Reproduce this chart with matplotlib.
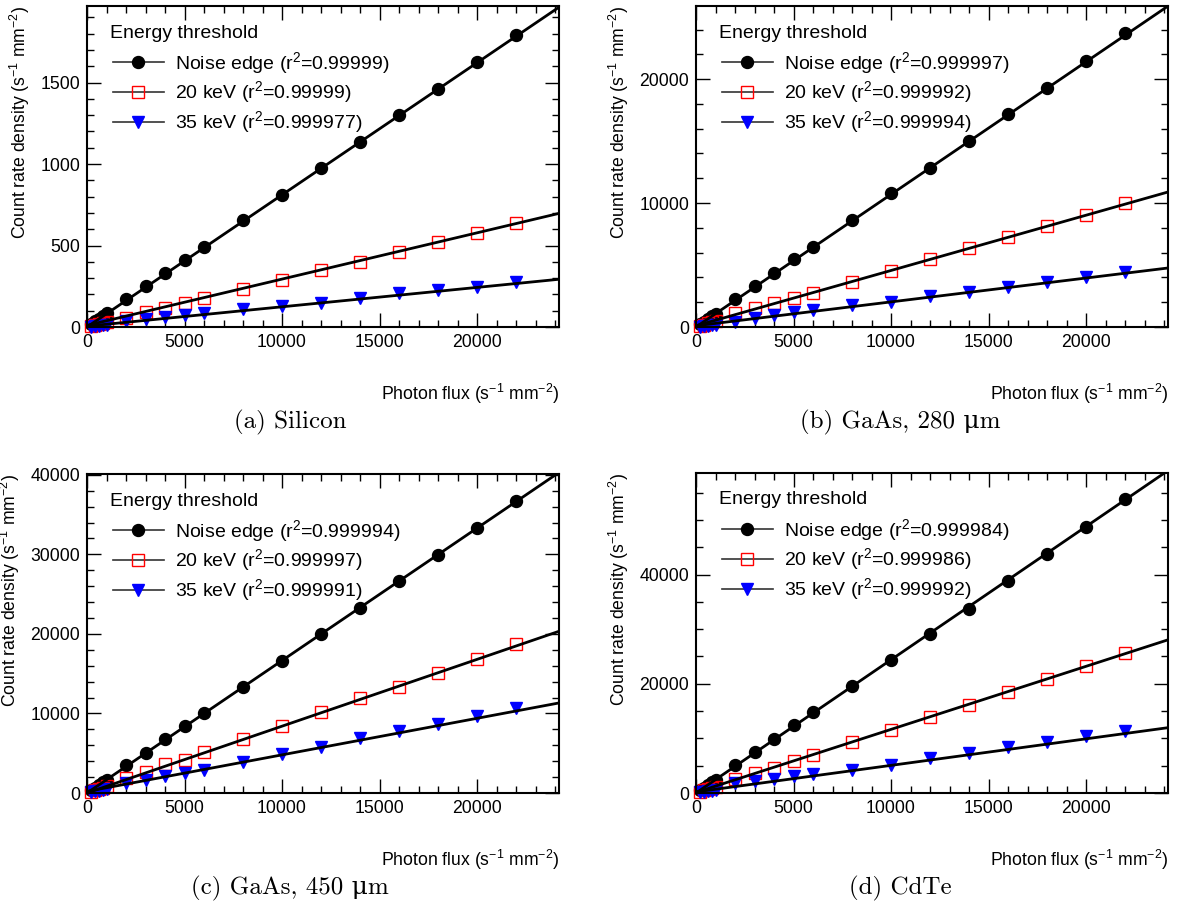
import matplotlib
matplotlib.use("Agg")
import matplotlib.pyplot as plt
from matplotlib.ticker import MultipleLocator
from matplotlib.lines import Line2D
import numpy as np

plt.rcParams['font.family'] = ['Liberation Sans', 'DejaVu Sans']
plt.rcParams['mathtext.default'] = 'regular'

# photon flux points (s^-1 mm^-2), same for every detector
flux = [200, 400, 600, 800, 1000, 2000, 3000, 4000, 5000, 6000,
        8000, 10000, 12000, 14000, 16000, 18000, 20000, 22000]

# (a) Silicon
si_noise = [18, 34, 50, 67, 84, 172, 251, 331, 411, 491,
            656, 810, 975, 1135, 1300, 1460, 1626, 1791]
si_20 = [6, 12, 18, 24, 29, 55, 92, 117, 147, 178,
         233, 288, 350, 399, 460, 521, 577, 638]
si_35 = [3, 5, 8, 10, 12, 37, 49, 61, 74, 86,
         110, 129, 147, 178, 208, 227, 245, 276]
si_r2 = ['0.99999', '0.99999', '0.999977']
si_slope = [0.0811, 0.0284, 0.0119]
si_icpt = [0, 10, 5]

# (b) GaAs 280 um
g2_noise = [215, 430, 645, 860, 1080, 2260, 3310, 4360, 5480, 6450,
            8630, 10800, 12830, 15000, 17180, 19270, 21450, 23700]
g2_20 = [95, 190, 285, 380, 470, 1130, 1530, 1940, 2340, 2740,
         3630, 4520, 5480, 6370, 7260, 8150, 9030, 10000]
g2_35 = [40, 80, 120, 160, 200, 400, 730, 970, 1210, 1370,
         1770, 2020, 2500, 2820, 3230, 3630, 4030, 4440]
g2_r2 = ['0.999997', '0.999992', '0.999994']
g2_slope = [1.07, 0.446, 0.1926]
g2_icpt = [0, 100, 100]

# (c) GaAs 450 um
g4_noise = [340, 680, 1010, 1350, 1690, 3520, 5070, 6750, 8430, 10020,
            13290, 16640, 19960, 23300, 26670, 29940, 33330, 36700]
g4_20 = [170, 340, 510, 680, 850, 1850, 2680, 3610, 4150, 5200,
         6750, 8470, 10230, 11910, 13330, 15100, 16860, 18700]
g4_35 = [95, 190, 280, 375, 470, 1220, 1640, 2140, 2470, 2890,
         3940, 4860, 5830, 6880, 7800, 8680, 9690, 10690]
g4_r2 = ['0.999994', '0.999997', '0.999991']
g4_slope = [1.665, 0.84, 0.4595]
g4_icpt = [0, 0, 200]

# (d) CdTe
cd_noise = [490, 980, 1470, 1960, 2450, 5180, 7500, 9880, 12370, 14750,
            19510, 24270, 29150, 33720, 38850, 43790, 48730, 53850]
cd_20 = [230, 460, 700, 930, 1160, 2560, 3660, 4570, 5910, 7010,
         9260, 11580, 13840, 16160, 18540, 20910, 23290, 25670]
cd_35 = [95, 190, 290, 390, 480, 1830, 2250, 2560, 3040, 3480,
         4260, 5180, 6400, 7320, 8470, 9390, 10490, 11400]
cd_r2 = ['0.999984', '0.999986', '0.999992']
cd_slope = [2.44, 1.155, 0.486]
cd_icpt = [0, 100, 200]

names = ['Noise edge', '20 keV', '35 keV']
captions = ['(a) Silicon', '(b) GaAs, 280 \u03bcm', '(c) GaAs, 450 \u03bcm', '(d) CdTe']

xmax = 24200
W, H = 1179, 909
fig = plt.figure(figsize=(W / 100, H / 100), dpi=100)

panels = [
    # left, top, right, bottom (px), ymax, major, minor, data
    ((87, 6, 559, 327), 1970, 500, 100,
     (si_noise, si_20, si_35), si_r2, si_slope, si_icpt),
    ((696, 6, 1168, 327), 25900, 10000, 2000,
     (g2_noise, g2_20, g2_35), g2_r2, g2_slope, g2_icpt),
    ((87, 474, 559, 793), 40100, 10000, 2000,
     (g4_noise, g4_20, g4_35), g4_r2, g4_slope, g4_icpt),
    ((696, 473, 1168, 793), 58600, 20000, 5000,
     (cd_noise, cd_20, cd_35), cd_r2, cd_slope, cd_icpt),
]

styles = [
    dict(marker='o', mfc='black', mec='black', ms=8.6),
    dict(marker='s', mfc='none', mec='red', ms=8.4, mew=1.0),
    dict(marker='v', mfc='blue', mec='blue', ms=8.6),
]

fs = 12.7
lfs = 14
for i, (box, ymax, major, minor, series, r2, slope, icpt) in enumerate(panels):
    l, t, r, b = box
    ax = fig.add_axes([l / W, 1 - b / H, (r - l) / W, (b - t) / H])
    xs = np.array([0, xmax])
    for j in range(3):
        st = styles[j]
        ax.plot(flux, series[j], ls='none', marker=st['marker'], ms=st['ms'],
                mfc=st['mfc'], mec=st['mec'], mew=st.get('mew', 1.0),
                clip_on=False, zorder=2)
        ax.plot(xs, slope[j] * xs + icpt[j], color='black', lw=2, zorder=3)
    ax.set_xlim(0, xmax)
    ax.set_ylim(0, ymax)
    ax.xaxis.set_major_locator(MultipleLocator(5000))
    ax.xaxis.set_minor_locator(MultipleLocator(1000))
    ax.yaxis.set_major_locator(MultipleLocator(major))
    ax.yaxis.set_minor_locator(MultipleLocator(minor))
    ax.tick_params(which='both', direction='in', top=True, right=True,
                   labelsize=fs, width=1)
    ax.tick_params(which='major', length=10, pad=5)
    ax.tick_params(which='minor', length=5)
    for s in ax.spines.values():
        s.set_linewidth(1.5)
    ax.set_ylabel('Count rate density (s$^{-1}$ mm$^{-2}$)', loc='top',
                  fontsize=fs, labelpad=6)
    ax.set_xlabel('Photon flux (s$^{-1}$ mm$^{-2}$)', loc='right',
                  fontsize=fs, labelpad=22)

    # legend header, then entries
    hgt = b - t
    ax.text(23 / 472, 1 - 27 / hgt, 'Energy threshold', transform=ax.transAxes,
            ha='left', va='center', fontsize=lfs)
    handles = []
    labels = []
    for j in range(3):
        st = styles[j]
        handles.append(Line2D([0], [0], color='#333333', lw=1.2, marker=st['marker'],
                              ms=st['ms'], mfc=st['mfc'], mec=st['mec'],
                              mew=st.get('mew', 1.0)))
        labels.append(names[j] + ' (r$^2$=' + r2[j] + ')')
    ax.legend(handles, labels, loc='upper left',
              frameon=False, fontsize=lfs,
              handlelength=2.6, handletextpad=0.6,
              labelspacing=0.2, borderaxespad=0, borderpad=0.4,
              bbox_to_anchor=(0.0386, 1 - 36 / hgt))

    cx = (290 if l < 400 else 900) / W
    cy = 1 - (422 if b < 400 else 888) / H
    fig.text(cx, cy, captions[i], ha='center', va='center', fontsize=18,
             family=['cmr10', 'DejaVu Serif'])

fig.savefig('out.png', dpi=100)
